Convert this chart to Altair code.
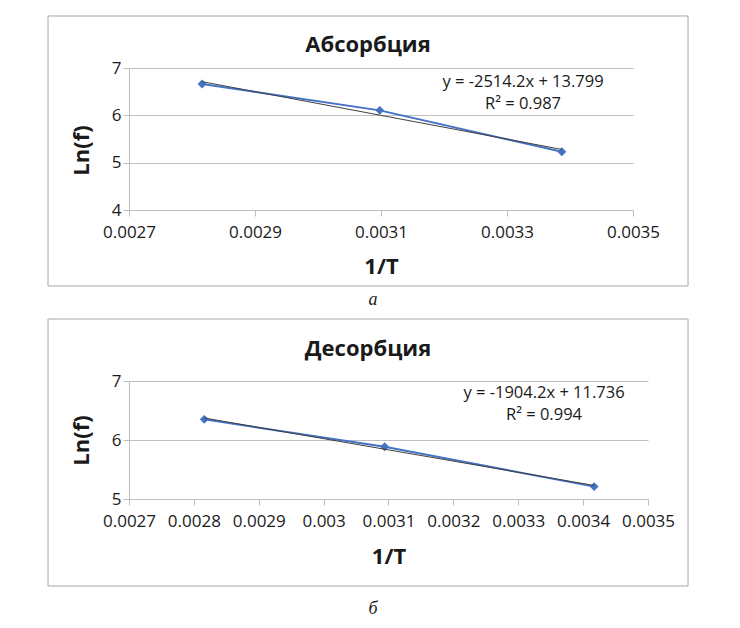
import altair as alt
import pandas as pd

# values
abs_x = [0.002816, 0.003098, 0.003387]
abs_y = [6.66, 6.105, 5.23]
des_x = [0.002816, 0.003094, 0.003417]
des_y = [6.35, 5.886, 5.21]

abs_ticks_x = [0.0027, 0.0029, 0.0031, 0.0033, 0.0035]
des_ticks_x = [0.0027, 0.0028, 0.0029, 0.003, 0.0031, 0.0032, 0.0033, 0.0034, 0.0035]
abs_ticks_y = [4, 5, 6, 7]
des_ticks_y = [5, 6, 7]

titles = ["Абсорбция", "Десорбция"]
equations = ["y = -2514.2x + 13.799", "y = -1904.2x + 11.736"]
r2_labels = ["R² = 0.987", "R² = 0.994"]
captions = ["а", "б"]

FONT = "Open Sans"
BLUE = "#4472C4"
GREY = "#bfbfbf"
INK = "#1a1a1a"


def text_at(one, label, x, y, size=16.5, weight="normal", font=FONT, style="normal"):
    return one.mark_text(
        font=font, fontSize=size, fontWeight=weight, fontStyle=style,
        color=INK, align="center", baseline="alphabetic",
    ).encode(x=alt.value(x), y=alt.value(y), text=alt.value(label))


def panel(xs, ys, x_ticks, y_ticks, i, w, h, lay):
    df = pd.DataFrame({"x": xs, "y": ys})
    x = alt.X(
        "x:Q",
        scale=alt.Scale(domain=[x_ticks[0], x_ticks[-1]], nice=False, zero=False),
        axis=alt.Axis(values=x_ticks, format="~g", grid=False, title="1/T",
                      titleY=lay["xt"], titleBaseline="middle",
                      labelOverlap=False, labelFlush=False),
    )
    y = alt.Y(
        "y:Q",
        scale=alt.Scale(domain=[y_ticks[0], y_ticks[-1]], nice=False, zero=False),
        axis=alt.Axis(values=y_ticks, format="~g", grid=True, title="Ln(f)",
                      titleX=-48, titleY=lay["yt"], titleBaseline="middle",
                      titleAlign="center", labelOverlap=False, labelFlush=False),
    )
    series = alt.Chart(df).mark_line(
        color=BLUE, strokeWidth=2,
        point=alt.OverlayMarkDef(shape="diamond", size=80, filled=True, color=BLUE),
    ).encode(x=x, y=y)
    trend = alt.Chart(df).transform_regression("x", "y").mark_line(
        color="#404040", strokeWidth=1
    ).encode(x=x, y=y)

    one = alt.Chart(pd.DataFrame({"k": [0]}))
    bx0, bx1, by0, by1 = lay["box"]
    frame = one.mark_rect(filled=False, stroke="#a6a6a6", strokeWidth=1).encode(
        x=alt.value(bx0), x2=alt.value(bx1), y=alt.value(by0), y2=alt.value(by1)
    )
    head = text_at(one, titles[i], 239, lay["title"], size=22, weight="bold")
    eq = text_at(one, equations[i], lay["eqx"], lay["eq"])
    r2 = text_at(one, r2_labels[i], lay["eqx"], lay["eq"] + 22)
    cap = text_at(one, captions[i], 244, lay["cap"], size=18,
                  font="Liberation Serif", style="italic")
    return alt.layer(frame, series, trend, head, eq, r2, cap).properties(
        width=w, height=h
    )


top = panel(abs_x, abs_y, abs_ticks_x, abs_ticks_y, 0, 504, 142,
            {"box": (-81, 559, -52, 218), "xt": 56, "yt": 82,
             "title": -16, "eq": 19, "eqx": 394, "cap": 237})
bottom = panel(des_x, des_y, des_ticks_x, des_ticks_y, 1, 519, 118,
               {"box": (-81, 559, -62, 205), "xt": 57, "yt": 59,
                "title": -25, "eq": 17, "eqx": 415, "cap": 233})

chart = alt.vconcat(top, bottom, spacing=171, bounds="flush").properties(
    padding={"left": 39, "top": 7, "right": 5, "bottom": 5}
).configure_view(strokeWidth=0).configure_axis(
    labelFont=FONT, labelFontSize=17, labelColor=INK,
    titleFont=FONT, titleFontSize=22, titleFontWeight="bold", titleColor=INK,
    domainColor=GREY, tickColor=GREY, gridColor=GREY, tickSize=6,
).configure_axisX(
    labelBaseline="middle", labelPadding=16,
).configure_axisY(
    labelPadding=2,
)

chart.save("out.html", embed_options={"renderer": "svg", "actions": False})
